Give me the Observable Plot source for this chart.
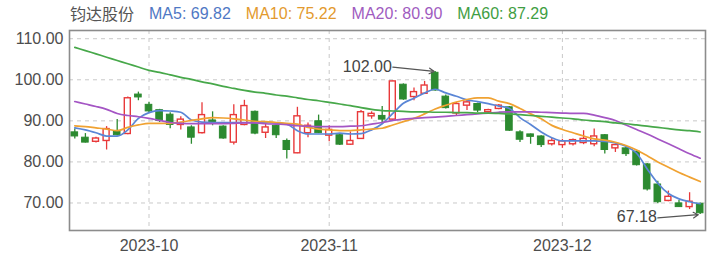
<!DOCTYPE html>
<html>
<head>
<meta charset="utf-8">
<script src="https://cdn.jsdelivr.net/npm/d3@7"></script>
<script src="https://cdn.jsdelivr.net/npm/@observablehq/plot@0.6"></script>
<style>
  body { margin: 0; background: #fff; font-family: "Liberation Sans", Arial, "Noto Sans CJK SC", sans-serif; }
  #legend { height: 28px; line-height: 27px; padding-left: 70px; font-size: 16px; white-space: nowrap; display: flex; }
  #legend span { margin-right: 15px; }
  #legend .name { font-family: "Noto Sans CJK SC", sans-serif; color: #555; }
</style>
</head>
<body>
<div id="legend"></div>
<div id="chart"></div>
<script>
// Trading days shown on the chart
const dates = [
  "2023-09-20","2023-09-21","2023-09-22","2023-09-25","2023-09-26","2023-09-27","2023-09-28",
  "2023-10-09","2023-10-10","2023-10-11","2023-10-12","2023-10-13","2023-10-16","2023-10-17",
  "2023-10-18","2023-10-19","2023-10-20","2023-10-23","2023-10-24","2023-10-25","2023-10-26",
  "2023-10-27","2023-10-30","2023-10-31",
  "2023-11-01","2023-11-02","2023-11-03","2023-11-06","2023-11-07","2023-11-08","2023-11-09",
  "2023-11-10","2023-11-13","2023-11-14","2023-11-15","2023-11-16","2023-11-17","2023-11-20",
  "2023-11-21","2023-11-22","2023-11-23","2023-11-24","2023-11-27","2023-11-28","2023-11-29",
  "2023-11-30",
  "2023-12-01","2023-12-04","2023-12-05","2023-12-06","2023-12-07","2023-12-08","2023-12-11",
  "2023-12-12","2023-12-13","2023-12-14","2023-12-15","2023-12-18","2023-12-19","2023-12-20"
];

// Daily prices
const open = [
  87.2, 85.9, 84.9, 85.1, 87.3, 86.8, 96.4, 93.9, 92.6, 91.5,
  89.0, 88.4, 87.0, 90.1, 88.6, 84.7, 89.0, 92.2, 87.1, 88.8,
  85.1, 82.1, 87.0, 89.9, 86.4, 86.5, 84.2, 85.6, 91.1, 91.2,
  90.3, 98.8, 95.8, 96.6, 101.7, 95.9, 91.8, 93.7, 94.1, 92.1,
  92.9, 93.3, 87.2, 86.7, 86.2, 84.3, 84.1, 84.3, 84.6, 84.3,
  86.5, 83.3, 83.3, 82.5, 79.4, 74.5, 70.5, 69.9, 69.0, 69.8
];
const close = [
  86.2, 84.7, 85.7, 88.0, 86.5, 95.5, 95.7, 92.3, 90.0, 89.0,
  90.3, 85.9, 91.4, 89.5, 85.7, 91.4, 93.6, 86.9, 88.4, 86.5,
  82.9, 91.1, 88.8, 87.0, 87.8, 84.2, 85.1, 92.1, 91.7, 90.3,
  99.6, 95.2, 97.0, 98.6, 97.4, 93.1, 94.1, 94.5, 92.5, 92.6,
  93.7, 87.6, 85.4, 86.1, 84.1, 85.1, 85.0, 85.3, 85.6, 86.2,
  82.9, 84.1, 81.9, 79.2, 73.3, 70.2, 71.5, 69.0, 70.3, 67.5
];
const high = [
  88.0, 86.9, 86.0, 88.6, 90.3, 95.8, 97.0, 94.5, 92.8, 92.0,
  91.0, 88.8, 94.4, 92.2, 88.8, 93.9, 95.0, 92.4, 89.2, 89.0,
  85.6, 93.3, 89.5, 91.4, 88.8, 86.7, 87.3, 92.5, 92.2, 93.5,
  99.7, 99.0, 98.0, 99.6, 102.0, 96.3, 94.5, 95.1, 94.3, 92.8,
  94.0, 93.5, 87.6, 86.8, 86.4, 85.7, 85.5, 85.6, 87.6, 88.0,
  86.7, 84.3, 83.5, 82.7, 79.6, 75.3, 72.9, 70.6, 72.5, 70.0
];
const low = [
  85.6, 84.6, 84.6, 82.9, 86.3, 86.6, 94.9, 91.9, 89.6, 88.1,
  87.8, 84.3, 86.8, 88.8, 85.5, 84.1, 88.8, 86.6, 85.7, 85.7,
  80.7, 82.0, 85.9, 86.9, 84.9, 84.0, 84.0, 85.5, 90.4, 89.2,
  90.0, 95.0, 94.9, 96.4, 97.2, 92.9, 91.3, 92.5, 92.0, 91.8,
  92.7, 87.4, 84.7, 84.3, 83.5, 83.9, 83.3, 83.9, 84.2, 83.7,
  81.9, 82.3, 81.3, 79.0, 72.9, 69.8, 70.3, 68.9, 68.4, 67.18
];

// Moving averages
const ma5 = [
  88.3, 87.8, 87.1, 86.3, 86.3, 87.8, 90.6, 92.0, 92.5, 92.4,
  92.1, 90.2, 89.7, 89.6, 89.6, 89.6, 89.6, 89.6, 89.6, 89.5,
  89.2, 87.6, 86.8, 86.8, 86.8, 87.0, 86.8, 86.9, 87.8, 89.3,
  91.8, 94.3, 95.5, 96.8, 97.7, 96.8, 96.0, 95.1, 94.7, 94.2,
  93.6, 93.0, 90.8, 89.1, 87.3, 85.9, 85.1, 85.1, 85.1, 85.1,
  85.0, 84.6, 83.8, 82.1, 78.3, 74.8, 72.3, 71.0, 70.3, 69.82
];
const ma10 = [
  88.8, 88.6, 88.3, 88.0, 87.6, 88.4, 89.0, 89.4, 89.4, 89.4,
  89.7, 90.1, 90.5, 90.8, 90.7, 90.5, 90.2, 89.9, 89.8, 89.6,
  89.4, 89.2, 88.4, 88.0, 87.8, 87.6, 87.6, 87.8, 88.0, 88.2,
  89.0, 89.8, 90.6, 91.7, 92.9, 93.8, 94.6, 95.2, 95.6, 95.6,
  94.8, 94.2, 93.0, 91.7, 90.5, 88.9, 87.9, 87.1, 86.3, 85.6,
  85.3, 84.8, 84.0, 82.9, 81.5, 80.0, 78.7, 77.4, 76.3, 75.22
];
const ma20 = [
  94.7, 94.1, 93.5, 92.8, 91.8, 91.3, 91.0, 90.6, 90.1, 89.6,
  89.4, 89.3, 89.3, 89.3, 89.3, 89.4, 89.5, 89.5, 89.3, 89.2,
  89.1, 88.8, 88.7, 88.6, 88.6, 88.6, 88.7, 88.8, 89.2, 89.6,
  90.1, 90.4, 90.6, 90.8, 90.9, 91.1, 91.3, 91.5, 91.7, 91.9,
  92.1, 92.2, 92.2, 92.2, 92.1, 92.0, 91.9, 91.8, 91.8, 91.4,
  90.8, 90.1, 89.0, 87.9, 86.8, 85.6, 84.4, 83.2, 82.0, 80.90
];
const ma60 = [
  107.9, 107.1, 106.3, 105.5, 104.7, 103.9, 103.1, 102.3, 101.8, 101.2,
  100.6, 100.1, 99.5, 99.0, 98.4, 97.9, 97.4, 97.0, 96.7, 96.3,
  96.0, 95.6, 95.2, 94.9, 94.5, 94.1, 93.7, 93.2, 92.8, 92.5,
  92.4, 92.3, 92.2, 92.2, 92.1, 92.1, 92.0, 92.0, 91.9, 91.9,
  91.8, 91.7, 91.5, 91.3, 91.1, 90.9, 90.7, 90.5, 90.2, 90.0,
  89.8, 89.5, 89.3, 89.0, 88.7, 88.4, 88.1, 87.8, 87.6, 87.29
];

const stockName = "钧达股份";
const yTicks = [70, 80, 90, 100, 110];
const monthTicks = ["2023-10-09", "2023-11-01", "2023-12-01"];

const RED = "#e8393a", GREEN = "#2c8a30";
const series = [
  {label: "MA5", values: ma5, line: "#5a86d6", text: "#4f78c4"},
  {label: "MA10", values: ma10, line: "#f0a232", text: "#e39a2e"},
  {label: "MA20", values: ma20, line: "#a455c4", text: "#9f5cbf"},
  {label: "MA60", values: ma60, line: "#47a84a", text: "#3f9e43"}
];

// Legend row: stock name followed by the latest value of each moving average
const legend = document.getElementById("legend");
const nameEl = document.createElement("span");
nameEl.className = "name";
nameEl.textContent = stockName;
legend.appendChild(nameEl);
for (const s of series) {
  const el = document.createElement("span");
  el.style.color = s.text;
  el.textContent = `${s.label}: ${s.values[s.values.length - 1].toFixed(2)}`;
  legend.appendChild(el);
}

const rows = dates.map((date, i) => ({
  date, open: open[i], close: close[i], high: high[i], low: low[i],
  ma5: ma5[i], ma10: ma10[i], ma20: ma20[i], ma60: ma60[i]
}));
const up = rows.filter(d => d.close >= d.open);
const down = rows.filter(d => d.close < d.open);

const peakIdx = d3.maxIndex(high);
const troughIdx = d3.minIndex(low);
const peak = rows[peakIdx], trough = rows[troughIdx];

const chart = Plot.plot({
  width: 709,
  height: 228,
  marginTop: 2,
  marginBottom: 26,
  marginLeft: 69,
  marginRight: 4,
  style: {fontFamily: "'Liberation Sans', Arial, sans-serif", fontSize: "16px", color: "#4d4d4d", background: "#fff"},
  x: {type: "band", domain: dates, padding: 0, label: null},
  y: {domain: [63.3, 112], label: null},
  marks: [
    Plot.ruleY(yTicks, {stroke: "#c9c9c9", strokeDasharray: "4,4"}),
    Plot.ruleX(monthTicks, {stroke: "#c9c9c9", strokeDasharray: "4,4"}),
    Plot.axisX({ticks: monthTicks, tickFormat: d => d.slice(0, 7), tickSize: 0, tickPadding: 9, label: null}),
    Plot.axisY({ticks: yTicks, tickFormat: d => d.toFixed(2), tickSize: 0, tickPadding: 6, label: null}),
    // wicks
    Plot.ruleX(up, {x: "date", y1: "low", y2: "high", stroke: RED, strokeWidth: 1.3}),
    Plot.ruleX(down, {x: "date", y1: "low", y2: "high", stroke: GREEN, strokeWidth: 1.3}),
    // bodies: rising days hollow red, falling days solid green
    Plot.barY(up, {x: "date", y1: "open", y2: "close", fill: "#fff", stroke: RED, strokeWidth: 1.4, insetLeft: 2.3, insetRight: 2.3}),
    Plot.barY(down, {x: "date", y1: "open", y2: "close", fill: GREEN, stroke: GREEN, strokeWidth: 1, insetLeft: 2, insetRight: 2}),
    // moving averages
    ...series.map(s => Plot.line(rows, {x: "date", y: s.label.toLowerCase(), stroke: s.line, strokeWidth: 1.7, curve: "monotone-x"})),
    Plot.frame({stroke: "#8c8c8c", strokeWidth: 1.6}),
    // highest / lowest price markers
    Plot.arrow([peak], {x1: () => dates[peakIdx - 4], y1: d => d.high + 1.1, x2: "date", y2: "high", stroke: "#555", strokeWidth: 1.2, headLength: 7, insetEnd: 1}),
    Plot.text([peak], {x: () => dates[peakIdx - 4], y: d => d.high + 1.1, text: d => d.high.toFixed(2), textAnchor: "end", dx: -1, fill: "#444", fontSize: 16}),
    Plot.arrow([trough], {x1: () => dates[troughIdx - 4], y1: d => d.low - 0.8, x2: "date", y2: "low", stroke: "#555", strokeWidth: 1.2, headLength: 7, insetEnd: 2}),
    Plot.text([trough], {x: () => dates[troughIdx - 4], y: d => d.low - 0.6, text: d => d.low.toFixed(2), textAnchor: "end", dx: -1, fill: "#444", fontSize: 16})
  ]
});
document.getElementById("chart").appendChild(chart);
</script>
</body>
</html>
